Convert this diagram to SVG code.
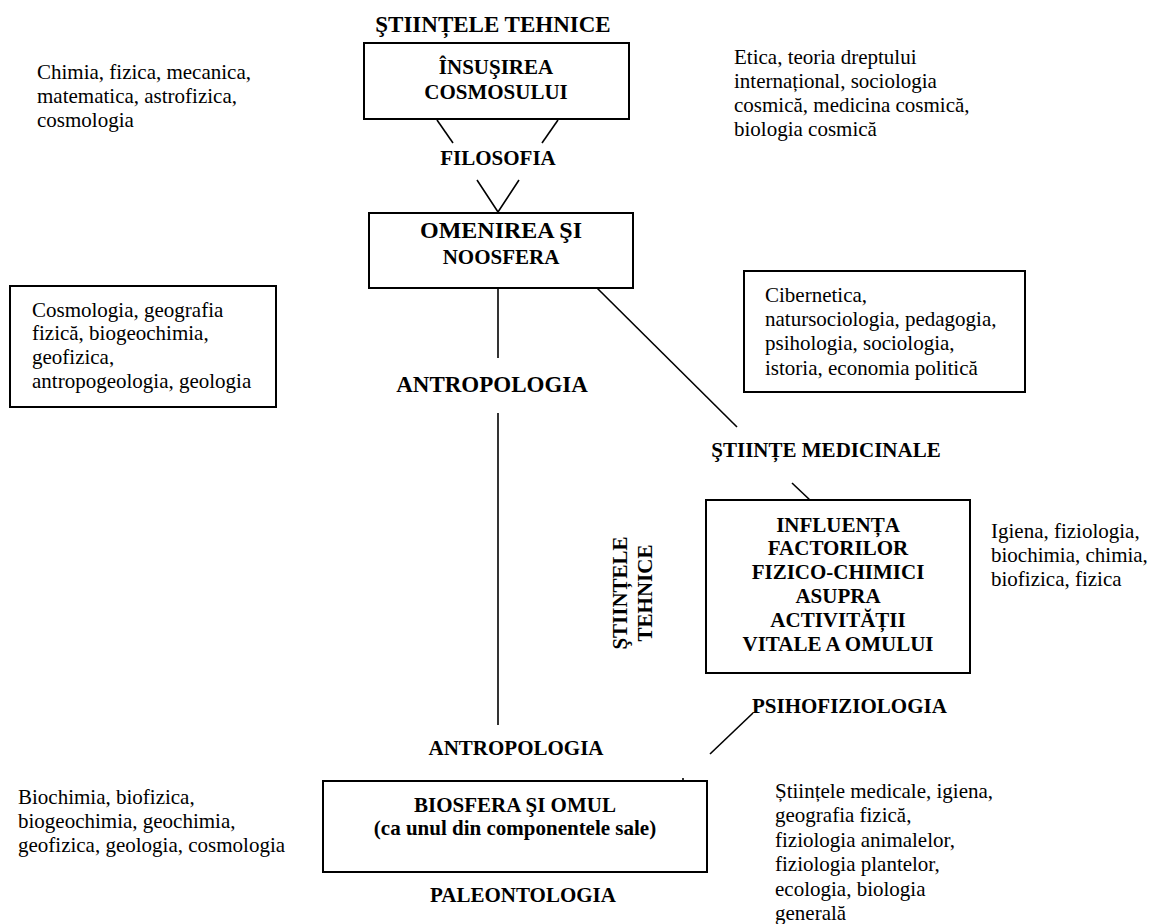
<svg xmlns="http://www.w3.org/2000/svg" width="1151" height="924" viewBox="0 0 1151 924">
<style>
  text { font-family: "Liberation Serif", "Times New Roman", serif; fill: #000; }
  .n { font-size: 21px; }
  .b { font-size: 21px; font-weight: bold; }
  .bc { font-size: 21px; font-weight: bold; text-anchor: middle; }
  .box { fill: #fff; stroke: #000; stroke-width: 2; }
  .ln { stroke: #000; stroke-width: 1.6; fill: none; }
</style>
<rect width="1151" height="924" fill="#fff"/>

<g id="connectors">
  <line class="ln" x1="437" y1="120" x2="453" y2="143"/>
  <line class="ln" x1="558" y1="120" x2="542" y2="143"/>
  <polyline class="ln" points="477,180 498,212 519,180"/>
  <line class="ln" x1="498" y1="288" x2="498" y2="358"/>
  <line class="ln" x1="498" y1="413" x2="498" y2="725"/>
  <line class="ln" x1="597" y1="288" x2="737" y2="427"/>
  <line class="ln" x1="792" y1="483" x2="811" y2="501"/>
  <line class="ln" x1="753" y1="713" x2="710" y2="754"/>
  <line class="ln" x1="683" y1="778" x2="683" y2="781"/>
</g>

<g id="title-top">
  <text x="493" y="32" text-anchor="middle" style="font-size:23px;font-weight:bold">ŞTIINȚELE TEHNICE</text>
</g>

<g id="node-cosmos">
  <rect class="box" x="364" y="43" width="265" height="76"/>
  <text class="bc" x="496" y="74">ÎNSUŞIREA</text>
  <text class="bc" x="496" y="99">COSMOSULUI</text>
</g>

<g id="text-chimia">
  <text class="n" x="37" y="79">Chimia, fizica, mecanica,</text>
  <text class="n" x="37" y="103">matematica, astrofizica,</text>
  <text class="n" x="37" y="127">cosmologia</text>
</g>

<g id="text-etica">
  <text class="n" x="734" y="64">Etica, teoria dreptului</text>
  <text class="n" x="734" y="88">internațional, sociologia</text>
  <text class="n" x="734" y="112">cosmică, medicina cosmică,</text>
  <text class="n" x="734" y="136">biologia cosmică</text>
</g>

<g id="label-filosofia">
  <text class="bc" x="498" y="165">FILOSOFIA</text>
</g>

<g id="node-omenirea">
  <rect class="box" x="369" y="213" width="264" height="75"/>
  <text x="501" y="238" text-anchor="middle" style="font-size:24px;font-weight:bold">OMENIREA ŞI</text>
  <text class="bc" x="501" y="264">NOOSFERA</text>
</g>

<g id="node-cosmologia">
  <rect class="box" x="10" y="286" width="266" height="121"/>
  <text class="n" x="32" y="317">Cosmologia, geografia</text>
  <text class="n" x="32" y="340">fizică, biogeochimia,</text>
  <text class="n" x="32" y="364">geofizica,</text>
  <text class="n" x="32" y="388">antropogeologia, geologia</text>
</g>

<g id="node-cibernetica">
  <rect class="box" x="744" y="271" width="281" height="121"/>
  <text class="n" x="765" y="302">Cibernetica,</text>
  <text class="n" x="765" y="326">natursociologia, pedagogia,</text>
  <text class="n" x="765" y="350">psihologia, sociologia,</text>
  <text class="n" x="765" y="375">istoria, economia politică</text>
</g>

<g id="label-antropologia-1">
  <text x="492" y="392" text-anchor="middle" style="font-size:23px;font-weight:bold">ANTROPOLOGIA</text>
</g>

<g id="label-medicinale">
  <text class="bc" x="826" y="457">ŞTIINȚE MEDICINALE</text>
</g>

<g id="node-influenta">
  <rect class="box" x="706" y="500" width="264" height="173"/>
  <text class="bc" x="838" y="532">INFLUENȚA</text>
  <text class="bc" x="838" y="555">FACTORILOR</text>
  <text class="bc" x="838" y="579">FIZICO-CHIMICI</text>
  <text class="bc" x="838" y="603">ASUPRA</text>
  <text class="bc" x="838" y="627">ACTIVITĂȚII</text>
  <text class="bc" x="838" y="651">VITALE A OMULUI</text>
</g>

<g id="text-igiena">
  <text class="n" x="991" y="538">Igiena, fiziologia,</text>
  <text class="n" x="991" y="562">biochimia, chimia,</text>
  <text class="n" x="991" y="586">biofizica, fizica</text>
</g>

<g id="label-tehnice-vertical">
  <text class="bc" transform="translate(627,593) rotate(-90)">ŞTIINȚELE</text>
  <text class="bc" transform="translate(652,593) rotate(-90)">TEHNICE</text>
</g>

<g id="label-psihofiziologia">
  <text class="b" x="752" y="713">PSIHOFIZIOLOGIA</text>
</g>

<g id="label-antropologia-2">
  <text class="bc" x="516" y="755">ANTROPOLOGIA</text>
</g>

<g id="node-biosfera">
  <rect class="box" x="323" y="781" width="384" height="91"/>
  <text class="bc" x="515" y="812">BIOSFERA ŞI OMUL</text>
  <text class="bc" x="515" y="835">(ca unul din componentele sale)</text>
</g>

<g id="text-biochimia">
  <text class="n" x="18" y="804">Biochimia, biofizica,</text>
  <text class="n" x="18" y="828">biogeochimia, geochimia,</text>
  <text class="n" x="18" y="852">geofizica, geologia, cosmologia</text>
</g>

<g id="text-stiintele-medicale">
  <text class="n" x="775" y="798">Științele medicale, igiena,</text>
  <text class="n" x="775" y="822">geografia fizică,</text>
  <text class="n" x="775" y="847">fiziologia animalelor,</text>
  <text class="n" x="775" y="871">fiziologia plantelor,</text>
  <text class="n" x="775" y="896">ecologia, biologia</text>
  <text class="n" x="775" y="920">generală</text>
</g>

<g id="label-paleontologia">
  <text class="bc" x="523" y="902">PALEONTOLOGIA</text>
</g>
</svg>
